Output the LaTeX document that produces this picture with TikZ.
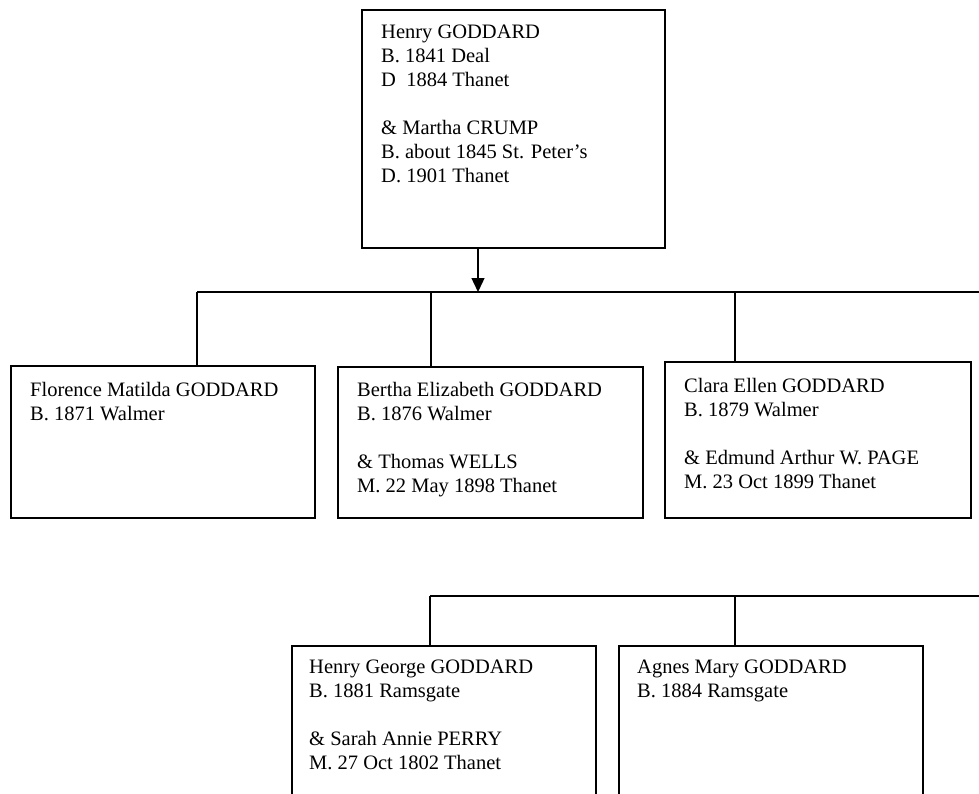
\documentclass[tikz,border=0pt]{standalone}
\usepackage{fontspec}
\setmainfont{Liberation Serif}
\usetikzlibrary{arrows.meta,calc}
\begin{document}
\begin{tikzpicture}[x=1pt,y=-1pt,
  box/.style={draw=black,line width=1.8pt,inner sep=0pt,anchor=north west},
  txt/.style={inner sep=0pt,anchor=north west,align=left,font=\fontsize{20.5}{24}\selectfont},
  conn/.style={draw=black,line width=1.4pt}]
\useasboundingbox (0,0) rectangle (979,794);
\clip (0,0) rectangle (979,794);
% parent box
\node[box,minimum width=303pt,minimum height=238pt] (p) at (361,9) {};
\node[txt] (pt) at (381,25) {Henry GODDARD\\B. 1841 Deal\\D\ \ 1884 Thanet\\[24pt]\& Martha CRUMP\\B. about 1845 St. Peter’s\\D. 1901 Thanet};
% first row
\node[box,minimum width=304pt,minimum height=152pt] (b1) at (10,365) {};
\node[txt] (t1) at (30,382) {Florence Matilda GODDARD\\B. 1871 Walmer};
\node[box,minimum width=305pt,minimum height=151pt] (b2) at (337,366) {};
\node[txt] (t2) at (357,382) {Bertha Elizabeth GODDARD\\B. 1876 Walmer\\[24pt]\& Thomas WELLS\\M. 22 May 1898 Thanet};
\node[box,minimum width=306pt,minimum height=156pt] (b3) at (664,361) {};
\node[txt] (t3) at (684,378) {Clara Ellen GODDARD\\B. 1879 Walmer\\[24pt]\& Edmund Arthur W. PAGE\\M. 23 Oct 1899 Thanet};
% second row
\node[box,minimum width=304pt,minimum height=170pt] (b4) at (291,645) {};
\node[txt] (t4) at (309,660) {Henry George GODDARD\\B. 1881 Ramsgate\\[24pt]\& Sarah Annie PERRY\\M. 27 Oct 1802 Thanet};
\node[box,minimum width=304pt,minimum height=170pt] (b5) at (618,645) {};
\node[txt] (t5) at (637,660) {Agnes Mary GODDARD\\B. 1884 Ramsgate};
% first bus
\coordinate (busA) at (478,292);
\coordinate (busL) at (197,292);
\coordinate (busR) at (995,292);
\coordinate (d2) at (431,292);
\coordinate (d3) at (735,292);
\draw[conn,-{Triangle[length=14pt,width=13pt]}] (p.south -| busA) -- (busA);
\draw[conn] (busL) -- (busR);
\draw[conn] (busL) -- (busL |- b1.north);
\draw[conn] (d2) -- (d2 |- b2.north);
\draw[conn] (d3) -- (d3 |- b3.north);
% second bus
\coordinate (bus2L) at (430,596);
\coordinate (bus2R) at (995,596);
\coordinate (e2) at (735,596);
\draw[conn] (bus2L) -- (bus2R);
\draw[conn] (bus2L) -- (bus2L |- b4.north);
\draw[conn] (e2) -- (e2 |- b5.north);
\end{tikzpicture}
\end{document}
